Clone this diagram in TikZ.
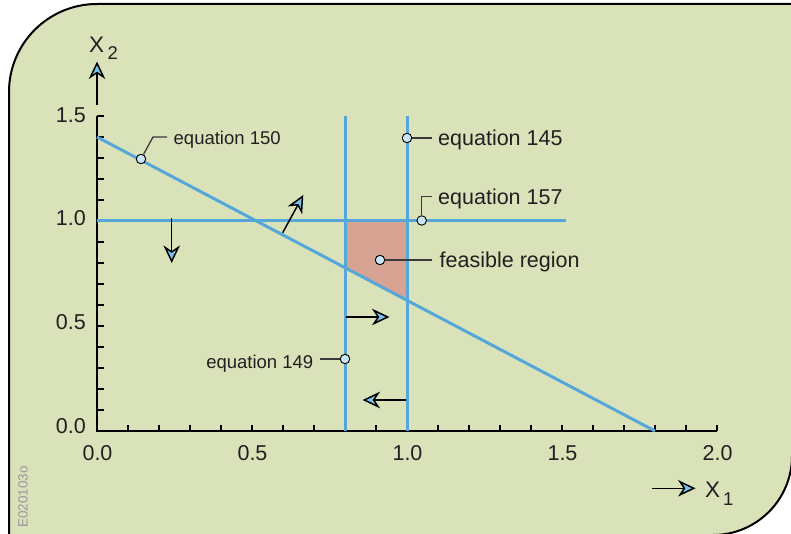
\documentclass[tikz,border=0pt]{standalone}
\usepackage{fontspec}
\setmainfont{Liberation Sans}
\usetikzlibrary{arrows.meta}
\definecolor{bgfill}{HTML}{DAE2BA}
\definecolor{cline}{HTML}{55A7D9}
\definecolor{feas}{HTML}{D6A392}
\definecolor{mark}{HTML}{C8E5F6}
\definecolor{tipblue}{HTML}{78C3EA}
\definecolor{txt}{HTML}{231F20}
\definecolor{lead}{HTML}{3A3A3A}
\tikzset{
  cons/.style={draw=cline, line width=3pt},
  axisline/.style={draw=black, line width=2.7pt},
  tickline/.style={draw=black, line width=1.4pt},
  dirarrow/.style={draw=black, line width=1.5pt, -{Stealth[length=17.5pt,width=16.5pt,inset=5.5pt,fill=tipblue]}},
  marker/.style={circle, draw=black, line width=0.9pt, fill=mark, minimum size=9.5pt, inner sep=0pt},
  leader/.style={draw=lead, line width=1.3pt},
  bigtxt/.style={inner sep=0pt, text=txt, font=\fontsize{21.5}{24}\selectfont},
  smalltxt/.style={inner sep=0pt, text=txt, font=\fontsize{18.5}{22}\selectfont},
  ticklbl/.style={inner sep=0pt, text=txt, font=\fontsize{21.5}{24}\selectfont}
}
\begin{document}
\begin{tikzpicture}[x=1pt,y=-1pt]
\useasboundingbox (0,0) rectangle (791,534);
\clip (0,0) rectangle (791,534);
% background
\path[fill=bgfill, draw=black, line width=2pt]
  (9,560) -- (9,92) .. controls (9,43.4) and (48.4,4) .. (97,4)
  -- (792,4) -- (792,456) .. controls (792,499.6) and (756.6,535) .. (713,535)
  -- (9,535) -- cycle;
% feasible region
\fill[feas] (345,221) -- (407,221) -- (407,300.3) -- (345,267.7) -- cycle;
% axes
\coordinate (O) at (97,431);
\coordinate (Ytop) at (97,116);
\coordinate (Xend) at (717,431);
\foreach \i in {1,...,15} {
  \draw[tickline] (97,{431-21*\i}) -- (103.5,{431-21*\i});
}
\foreach \i in {1,...,20} {
  \draw[tickline] ({97+31*\i},431) -- ({97+31*\i},424.5);
}
\draw[axisline] (Ytop) -- (O) -- (Xend);
% tick labels
\node[ticklbl, anchor=base east] (y00) at (86,433) {0.0};
\node[ticklbl, anchor=base east] (y05) at (86,329.5) {0.5};
\node[ticklbl, anchor=base east] (y10) at (86,226) {1.0};
\node[ticklbl, anchor=base east] (y15) at (86,122.5) {1.5};
\node[ticklbl, anchor=base] (x00) at (97.5,460) {0.0};
\node[ticklbl, anchor=base] (x05) at (252.5,460) {0.5};
\node[ticklbl, anchor=base] (x10) at (407.5,460) {1.0};
\node[ticklbl, anchor=base] (x15) at (562.5,460) {1.5};
\node[ticklbl, anchor=base] (x20) at (717.5,460) {2.0};
% constraint lines
\coordinate (a150) at (97,137);
\coordinate (b150) at (655,431);
\coordinate (a157) at (97,221);
\coordinate (b157) at (566,221);
\coordinate (a149) at (345,431);
\coordinate (b149) at (345,116);
\coordinate (a145) at (407,431);
\coordinate (b145) at (407,116);
\draw[cons] (a150) -- (b150);
\draw[cons] (a157) -- (b157);
\draw[cons] (a149) -- (b149);
\draw[cons] (a145) -- (b145);
% direction arrows
\coordinate (d1s) at (171.7,218); \coordinate (d1e) at (171.7,263);
\coordinate (d2s) at (282.7,232.7); \coordinate (d2e) at (303.3,195);
\coordinate (d3s) at (346,317); \coordinate (d3e) at (389.5,317);
\coordinate (d4s) at (406,400); \coordinate (d4e) at (362.5,400);
\draw[dirarrow] (d1s) -- (d1e);
\draw[dirarrow] (d2s) -- (d2e);
\draw[dirarrow] (d3s) -- (d3e);
\draw[dirarrow] (d4s) -- (d4e);
% axis name arrows
\coordinate (x2s) at (97,105); \coordinate (x2e) at (97,61.5);
\coordinate (x1s) at (651.7,488.3); \coordinate (x1e) at (695.5,488.3);
\draw[dirarrow] (x2s) -- (x2e);
\draw[dirarrow] (x1s) -- (x1e);
\node[inner sep=0pt, text=txt, font=\fontsize{22.5}{24}\selectfont, anchor=base west] (X2) at (89,53) {X};
\node[inner sep=0pt, text=txt, font=\fontsize{18.5}{20}\selectfont, anchor=base west] (X2s) at (107.5,60) {2};
\node[inner sep=0pt, text=txt, font=\fontsize{22.5}{24}\selectfont, anchor=base west] (X1) at (705,497.3) {X};
\node[inner sep=0pt, text=txt, font=\fontsize{18.5}{20}\selectfont, anchor=base west] (X1s) at (723,505) {1};
% callouts
\node[marker] (m150) at (141,159) {};
\coordinate (k150) at (153,137);
\coordinate (e150) at (167,137);
\draw[leader] (m150) -- (k150) -- (e150);
\node[smalltxt, anchor=base west] (t150) at (173.5,144.3) {equation 150};

\node[marker] (m145) at (407,138) {};
\coordinate (e145) at (432,138);
\draw[leader] (m145) -- (e145);
\node[bigtxt, anchor=base west] (t145) at (438,145.7) {equation 145};

\node[marker] (m157) at (421.7,220.5) {};
\coordinate (k157) at (421.7,196.7);
\coordinate (e157) at (432,196.7);
\draw[leader] (m157) -- (k157) -- (e157);
\node[bigtxt, anchor=base west] (t157) at (438,205) {equation 157};

\node[marker] (mfr) at (380,260) {};
\coordinate (efr) at (432,260);
\draw[leader] (mfr) -- (efr);
\node[bigtxt, anchor=base west] (tfr) at (439.5,267.3) {feasible region};

\node[marker] (m149) at (345,359) {};
\coordinate (e149) at (320,359);
\draw[leader] (m149) -- (e149);
\node[smalltxt, anchor=base east] (t149) at (313.5,368) {equation 149};
% figure code
\node[inner sep=0pt, text=black!40, font=\fontsize{13.5}{15}\selectfont, rotate=90] (code) at (23,497) {E020103o};
\end{tikzpicture}
\end{document}
